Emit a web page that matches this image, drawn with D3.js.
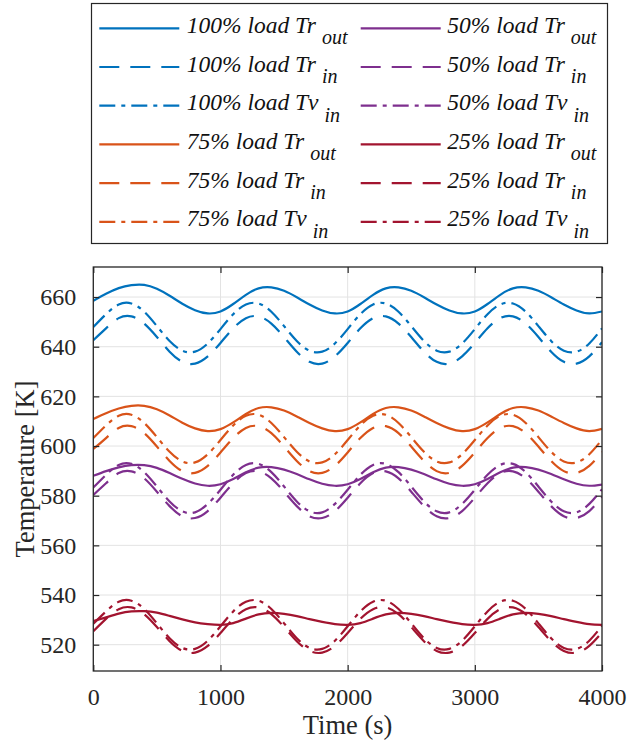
<!DOCTYPE html>
<html><head><meta charset="utf-8">
<script src="https://cdn.jsdelivr.net/npm/d3@7"></script>
<style>body{margin:0;background:#fff} svg text{font-family:"Liberation Serif","Times New Roman",serif;}</style>
</head><body>
<script>
// ---- data ----
const time = [0,100,200,300,400,500,600,700,800,900,1000,1100,1200,1300,1400,1500,1600,1700,1800,1900,2000,2100,2200,2300,2400,2500,2600,2700,2800,2900,3000,3100,3200,3300,3400,3500,3600,3700,3800,3900,4000];
const xTicks = [0,1000,2000,3000,4000];
const yTicks = [520,540,560,580,600,620,640,660];

const load100_TrOut = [658.5,661.3,663.6,664.8,664.9,663.3,660.5,657.3,654.7,653.4,654.2,657.2,660.9,663.5,663.9,662.5,659.9,657.0,654.6,653.4,654.2,657.2,660.9,663.5,663.9,662.5,659.9,657.0,654.6,653.4,654.2,657.2,660.9,663.5,663.9,662.5,659.9,657.0,654.6,653.4,654.2];
const load100_TrIn  = [642.6,647.4,651.5,652.2,649.3,643.9,638.0,633.9,633.2,636.1,641.5,647.4,651.5,652.2,649.3,643.9,638.0,633.9,633.2,636.1,641.5,647.4,651.5,652.2,649.3,643.9,638.0,633.9,633.2,636.1,641.5,647.4,651.5,652.2,649.3,643.9,638.0,633.9,633.2,636.1,641.8];
const load100_TvIn  = [647.9,653.1,657.0,657.4,654.1,648.3,642.3,638.4,638.0,641.3,647.1,653.1,657.0,657.4,654.1,648.3,642.3,638.4,638.0,641.3,647.1,653.1,657.0,657.4,654.1,648.3,642.3,638.4,638.0,641.3,647.1,653.1,657.0,657.4,654.1,648.3,642.3,638.4,638.0,641.3,647.4];

const load75_TrOut = [610.9,613.2,615.1,616.2,616.2,614.8,612.3,609.4,607.1,606.0,606.8,609.5,612.9,615.3,615.6,614.3,611.9,609.3,607.1,606.0,606.8,609.5,612.9,615.3,615.6,614.3,611.9,609.3,607.1,606.0,606.8,609.5,612.9,615.3,615.6,614.3,611.9,609.3,607.1,606.0,606.9];
const load75_TrIn  = [598.8,603.2,607.3,608.0,605.2,599.8,594.0,589.9,589.2,592.0,597.4,603.2,607.3,608.0,605.2,599.8,594.0,589.9,589.2,592.0,597.4,603.2,607.3,608.0,605.2,599.8,594.0,589.9,589.2,592.0,597.4,603.2,607.3,608.0,605.2,599.8,594.0,589.9,589.2,592.0,597.6];
const load75_TvIn  = [603.2,608.3,612.2,612.6,609.3,603.6,597.7,593.8,593.4,596.7,602.4,608.3,612.2,612.6,609.3,603.6,597.7,593.8,593.4,596.7,602.4,608.3,612.2,612.6,609.3,603.6,597.7,593.8,593.4,596.7,602.4,608.3,612.2,612.6,609.3,603.6,597.7,593.8,593.4,596.7,602.6];

const load50_TrOut = [588.0,589.9,591.4,592.3,592.3,591.2,589.1,586.8,584.9,584.0,584.6,586.7,589.4,591.3,591.5,590.5,588.7,586.6,584.8,584.0,584.6,586.7,589.4,591.3,591.5,590.5,588.7,586.6,584.8,584.0,584.6,586.7,589.4,591.3,591.5,590.5,588.7,586.6,584.8,584.0,584.5];
const load50_TrIn  = [580.3,585.0,589.1,589.8,587.0,581.6,575.8,571.7,571.0,573.8,579.2,585.0,589.1,589.8,587.0,581.6,575.8,571.7,571.0,573.8,579.2,585.0,589.1,589.8,587.0,581.6,575.8,571.7,571.0,573.8,579.2,585.0,589.1,589.8,587.0,581.6,575.8,571.7,571.0,573.8,579.4];
const load50_TvIn  = [583.3,588.4,592.4,592.8,589.5,583.7,577.7,573.7,573.3,576.7,582.4,588.4,592.4,592.8,589.5,583.7,577.7,573.7,573.3,576.7,582.4,588.4,592.4,592.8,589.5,583.7,577.7,573.7,573.3,576.7,582.4,588.4,592.4,592.8,589.5,583.7,577.7,573.7,573.3,576.7,582.6];

const load25_TrOut = [529.5,531.0,532.5,533.4,533.5,532.9,531.6,530.2,529.0,528.3,528.0,528.7,530.5,532.2,532.8,532.4,531.5,530.3,529.2,528.3,528.0,528.7,530.5,532.2,532.8,532.4,531.5,530.3,529.2,528.3,528.0,528.7,530.5,532.2,532.8,532.4,531.5,530.3,529.2,528.3,528.0];
const load25_TrIn  = [525.4,530.4,534.3,535.0,532.3,527.1,521.4,517.5,516.8,519.5,524.7,530.4,534.3,535.0,532.3,527.1,521.4,517.5,516.8,519.5,524.7,530.4,534.3,535.0,532.3,527.1,521.4,517.5,516.8,519.5,524.7,530.4,534.3,535.0,532.3,527.1,521.4,517.5,516.8,519.5,524.9];
const load25_TvIn  = [528.4,533.4,537.3,537.7,534.4,528.6,522.6,518.7,518.3,521.6,527.4,533.4,537.3,537.7,534.4,528.6,522.6,518.7,518.3,521.6,527.4,533.4,537.3,537.7,534.4,528.6,522.6,518.7,518.3,521.6,527.4,533.4,537.3,537.7,534.4,528.6,522.6,518.7,518.3,521.6,527.6];

const loads = ["100%","75%","50%","25%"];
const colors = ["#0072BD","#D95319","#7E2F8E","#A2142F"];
const kinds = [{base:"Tr",sub:"out",dash:null},{base:"Tr",sub:"in",dash:"20 11"},{base:"Tv",sub:"in",dash:"16 6 4 6"}];
const seriesValues = [
  [load100_TrOut, load100_TrIn, load100_TvIn],
  [load75_TrOut, load75_TrIn, load75_TvIn],
  [load50_TrOut, load50_TrIn, load50_TvIn],
  [load25_TrOut, load25_TrIn, load25_TvIn]
];

// ---- layout ----
const W = 627, H = 745;
const L = 93.3, R = 602, T = 267, B = 671;
const FONT = "'Liberation Serif','Times New Roman',serif";
const svg = d3.select("body").append("svg").attr("width", W).attr("height", H)
  .attr("font-family", FONT);

const x = d3.scaleLinear().domain([0, 4000]).range([L, R]);
const y = d3.scaleLinear().domain([509.4, 672.1]).range([B, T]);

// grid
const g = svg.append("g");
g.selectAll(".gx").data(xTicks).join("line")
  .attr("x1", d => x(d)).attr("x2", d => x(d)).attr("y1", T).attr("y2", B)
  .attr("stroke", "#e3e3e3").attr("stroke-width", 1);
g.selectAll(".gy").data(yTicks).join("line")
  .attr("x1", L).attr("x2", R).attr("y1", d => y(d)).attr("y2", d => y(d))
  .attr("stroke", "#e3e3e3").attr("stroke-width", 1);

// lines
svg.append("clipPath").attr("id", "clip").append("rect")
  .attr("x", L).attr("y", T).attr("width", R - L).attr("height", B - T);
const line = d3.line().x((d, i) => x(time[i])).y(d => y(d)).curve(d3.curveNatural);
const lg = svg.append("g").attr("clip-path", "url(#clip)");
seriesValues.forEach((grp, li) => {
  grp.forEach((vals, ki) => {
    lg.append("path").datum(vals)
      .attr("d", line)
      .attr("fill", "none")
      .attr("stroke", colors[li])
      .attr("stroke-width", 2.2)
      .attr("stroke-dasharray", kinds[ki].dash);
  });
});

// axes
const axCol = "#262626";
function styleAxis(sel, showText) {
  sel.attr("font-family", FONT).attr("font-size", 24);
  sel.select(".domain").remove();
  sel.selectAll(".tick line").attr("stroke", axCol).attr("stroke-width", 1.2);
  sel.selectAll(".tick text").attr("fill", axCol);
  if (!showText) sel.selectAll(".tick text").remove();
}
svg.append("g").attr("transform", `translate(0,${B})`)
  .call(d3.axisBottom(x).tickValues(xTicks).tickSize(-6).tickPadding(17).tickFormat(d3.format("d")))
  .call(s => styleAxis(s, true));
svg.append("g").attr("transform", `translate(0,${T})`)
  .call(d3.axisTop(x).tickValues(xTicks).tickSize(-6))
  .call(s => styleAxis(s, false));
svg.append("g").attr("transform", `translate(${L},0)`)
  .call(d3.axisLeft(y).tickValues(yTicks).tickSize(-6).tickPadding(17).tickFormat(d3.format("d")))
  .call(s => styleAxis(s, true));
svg.append("g").attr("transform", `translate(${R},0)`)
  .call(d3.axisRight(y).tickValues(yTicks).tickSize(-6))
  .call(s => styleAxis(s, false));
svg.append("rect").attr("x", L).attr("y", T).attr("width", R - L).attr("height", B - T)
  .attr("fill", "none").attr("stroke", axCol).attr("stroke-width", 1.3);

// axis labels
svg.append("text").attr("x", (L + R) / 2).attr("y", 734).attr("text-anchor", "middle")
  .attr("fill", axCol).attr("font-size", 26.5).text("Time (s)");
svg.append("text").attr("transform", `translate(34,${(T + B) / 2}) rotate(-90)`)
  .attr("text-anchor", "middle").attr("fill", axCol).attr("font-size", 26.5)
  .text("Temperature [K]");

// legend
const leg = svg.append("g");
leg.append("rect").attr("x", 91.5).attr("y", 3.5).attr("width", 516).attr("height", 240)
  .attr("fill", "#fff").attr("stroke", axCol).attr("stroke-width", 1.2);
const colX = [{x1: 99.3, x2: 179.3, tx: 186.7}, {x1: 360.7, x2: 440.7, tx: 447.3}];
const rowY0 = 28.3, rowDy = 38.7;
loads.forEach((ld, li) => {
  const col = colX[Math.floor(li / 2)];
  kinds.forEach((k, ki) => {
    const ry = rowY0 + ((li % 2) * 3 + ki) * rowDy;
    leg.append("line").attr("x1", col.x1).attr("x2", col.x2).attr("y1", ry).attr("y2", ry)
      .attr("stroke", colors[li]).attr("stroke-width", 2.2).attr("stroke-dasharray", k.dash);
    const t = leg.append("text").attr("x", col.tx).attr("y", ry + 4.5)
      .attr("fill", "#111").attr("font-size", 23.5).attr("font-style", "italic");
    t.append("tspan").text(`${ld} load ${k.base}`);
    t.append("tspan").attr("dx", 6).attr("dy", 11.5).attr("font-size", 20).text(k.sub);
  });
});
</script>
</body></html>
